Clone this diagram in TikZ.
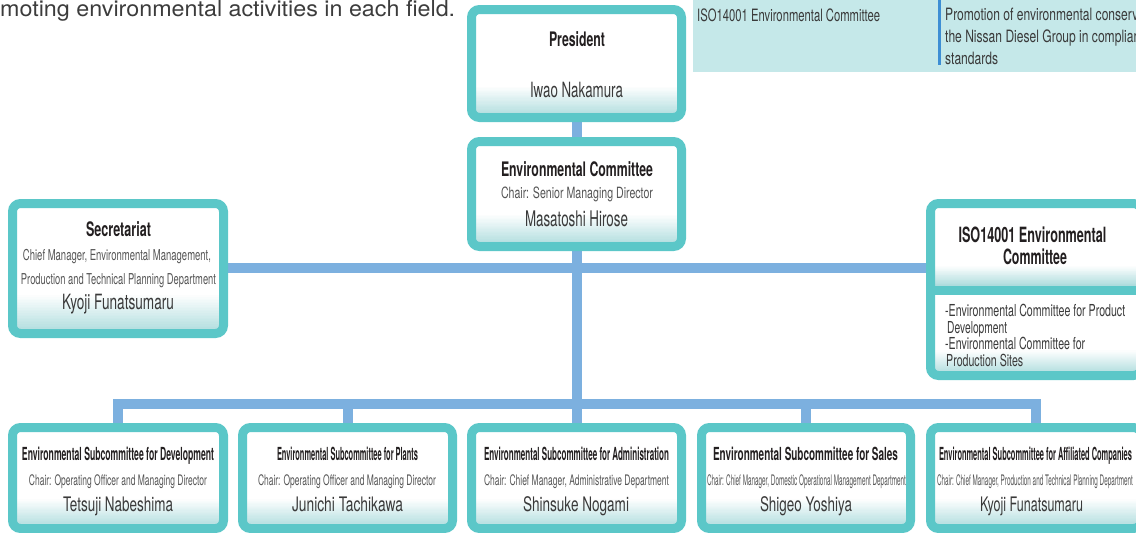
\documentclass[tikz,border=0pt]{standalone}
\usepackage{fontspec}
\setmainfont{TeX Gyre Heros}
\usepackage{graphicx}
\usetikzlibrary{backgrounds}
\definecolor{bordc}{HTML}{5BC7C8}
\definecolor{connc}{HTML}{7CB0DF}
\definecolor{gradc}{HTML}{ADDCDD}
\definecolor{tblc}{HTML}{C5E8E9}
\definecolor{sepc}{HTML}{3D8ED4}
\definecolor{ttlc}{HTML}{231F20}
\definecolor{subc}{HTML}{555555}
\definecolor{nmc}{HTML}{3A3A3A}
\definecolor{txtc}{HTML}{3C3C3C}
\newcommand\fw[2]{\resizebox{#1pt}{\height}{#2}}
% gradient band inside a path picture: start (above south), height
\newcommand\gband[2]{%
  \foreach \k in {0,...,23}{%
    \pgfmathsetmacro\pc{100-100*\k/24}%
    \fill[sharp corners, gradc!\pc!white]
      ([yshift={#1+\k*#2/24}]path picture bounding box.south west) rectangle
      ([yshift={#1+(\k+1)*#2/24+0.4}]path picture bounding box.south east);}}
\tikzset{
  band/.store in=\bandh, band=31,
  obox/.style={draw=bordc, line width=9pt, rounded corners=8pt, fill=white, inner sep=0pt,
    path picture={\gband{0}{\bandh}}},
  isobox/.style={obox,
    path picture={
      \gband{0}{25}
      \gband{89.5}{19.5}
      \fill[sharp corners, bordc]
        ([yshift=80.5pt]path picture bounding box.south west) rectangle ([yshift=89.5pt]path picture bounding box.south east);}},
  conn/.style={draw=connc, line width=10pt},
  lbl/.style={inner sep=0pt, anchor=base},
  ttl/.style={lbl, text=ttlc, font=\fontsize{20}{20}\selectfont\bfseries},
  sttl/.style={lbl, text=ttlc, font=\fontsize{18}{18}\selectfont\bfseries},
  chr/.style={lbl, text=subc, font=\fontsize{14.5}{14.5}\selectfont},
  nm/.style={lbl, text=nmc, font=\fontsize{20}{20}\selectfont},
  lst/.style={inner sep=0pt, anchor=base west, text=nmc, font=\fontsize{16.5}{16.5}\selectfont},
  tbt/.style={inner sep=0pt, anchor=base west, text=nmc, font=\fontsize{17}{17}\selectfont},
}
\begin{document}
\begin{tikzpicture}[x=1pt, y=-1pt]
\useasboundingbox (0,0) rectangle (1136,533);
\clip (0,0) rectangle (1136,533);

% intro text and top-right table
\node[inner sep=0pt, anchor=base west, text=txtc, font=\fontsize{22}{22}\selectfont] (intro) at (0,16.5)
  {\fw{455}{moting environmental activities in each field.}};
\node[fill=tblc, inner sep=0pt, minimum width=460pt, minimum height=72pt, anchor=north west] (tab) at (693,0) {};
\fill[sepc] (938,0) rectangle (941,65);
\node[tbt] (tabL) at (697,21) {\fw{183}{ISO14001 Environmental Committee}};
\node[tbt] (tabR1) at (945,20.5) {\scalebox{0.71}[1]{Promotion of environmental conservation activities by}};
\node[tbt] (tabR2) at (945,42.5) {\scalebox{0.71}[1]{the Nissan Diesel Group in compliance with the}};
\node[tbt] (tabR3) at (945,64.5) {\scalebox{0.71}[1]{standards}};

% boxes
\node[obox, band=30.5, minimum width=210pt, minimum height=108pt] (pres) at (576.5,63.5) {};
\node[obox, band=31.5, minimum width=210pt, minimum height=105pt] (envc) at (576.5,194) {};
\node[obox, band=38, minimum width=211pt, minimum height=130pt] (sec) at (118,268.5) {};
\node[isobox, minimum width=211pt, minimum height=172pt] (iso) at (1036,289.5) {};
\node[obox, band=29, minimum width=211pt, minimum height=101pt] (s1) at (118,478) {};
\node[obox, band=29, minimum width=210pt, minimum height=101pt] (s2) at (347.5,478) {};
\node[obox, band=29, minimum width=210pt, minimum height=101pt] (s3) at (576.5,478) {};
\node[obox, band=29, minimum width=209pt, minimum height=101pt] (s4) at (806,478) {};
\node[obox, band=29, minimum width=211pt, minimum height=101pt] (s5) at (1036,478) {};

% connectors
\coordinate (mj) at (576.5,268);
\coordinate (jn) at (576.5,404);
\begin{scope}[on background layer]
\draw[conn] (pres.south) -- (envc.north);
\draw[conn] (envc.south) -- (s3.north);
\draw[conn] (sec.east |- mj) -- (iso.west |- mj);
\draw[conn] (s1.north) |- (jn) -| (s5.north);
\draw[conn] (s2.north) -- (s2.north |- jn);
\draw[conn] (s4.north) -- (s4.north |- jn);
\end{scope}

% President
\node[ttl] (presT) at (577,46) {\fw{56}{President}};
\node[nm, font=\fontsize{21}{21}\selectfont] (presN) at (576.5,97.5) {\fw{93}{Iwao Nakamura}};
% Environmental Committee
\node[ttl] (envcT) at (577,176) {\fw{152}{Environmental Committee}};
\node[chr, font=\fontsize{15.5}{15.5}\selectfont] (envcC) at (577,198.5) {\fw{152}{Chair: Senior Managing Director}};
\node[nm, font=\fontsize{21.5}{21.5}\selectfont] (envcN) at (576.5,226) {\fw{103}{Masatoshi Hirose}};
% Secretariat
\node[ttl] (secT) at (118.5,236.5) {\fw{65}{Secretariat}};
\node[chr, font=\fontsize{15}{15}\selectfont] (secC1) at (117,260.5) {\fw{188}{Chief Manager, Environmental Management,}};
\node[chr, font=\fontsize{15}{15}\selectfont] (secC2) at (118.5,284.5) {\fw{195}{Production and Technical Planning Department}};
\node[nm, font=\fontsize{21}{21}\selectfont] (secN) at (118,309) {\fw{112}{Kyoji Funatsumaru}};
% ISO14001
\node[ttl, font=\fontsize{21}{21}\selectfont\bfseries] (isoT1) at (1032.5,242.5) {\fw{148}{ISO14001 Environmental}};
\node[ttl, font=\fontsize{21}{21}\selectfont\bfseries] (isoT2) at (1035,264.5) {\fw{64}{Committee}};
\node[lst] (isoL1) at (945,316.5) {\fw{180}{-Environmental Committee for Product}};
\node[lst] (isoL2) at (947,333) {\fw{60}{Development}};
\node[lst] (isoL3) at (945,349.5) {\fw{140}{-Environmental Committee for}};
\node[lst] (isoL4) at (946,366) {\fw{77}{Production Sites}};
% Subcommittees
\node[sttl] (s1T) at (118,460) {\fw{192}{Environmental Subcommittee for Development}};
\node[chr] (s1C) at (118,485) {\fw{178}{Chair: Operating Officer and Managing Director}};
\node[nm] (s1N) at (118,511.5) {\fw{110}{Tetsuji Nabeshima}};
\node[sttl] (s2T) at (347.5,460) {\fw{141}{Environmental Subcommittee for Plants}};
\node[chr] (s2C) at (347,485) {\fw{178}{Chair: Operating Officer and Managing Director}};
\node[nm] (s2N) at (347.5,511.5) {\fw{111}{Junichi Tachikawa}};
\node[sttl] (s3T) at (576.5,460) {\fw{185}{Environmental Subcommittee for Administration}};
\node[chr] (s3C) at (576.5,485) {\fw{185}{Chair: Chief Manager, Administrative Department}};
\node[nm] (s3N) at (576,511.5) {\fw{106}{Shinsuke Nogami}};
\node[sttl] (s4T) at (805.5,460) {\fw{185}{Environmental Subcommittee for Sales}};
\node[chr] (s4C) at (806.5,485) {\fw{199}{Chair: Chief Manager, Domestic Operational Management Department}};
\node[nm] (s4N) at (806,511.5) {\fw{92}{Shigeo Yoshiya}};
\node[sttl] (s5T) at (1035.5,460) {\fw{193}{Environmental Subcommittee for Affiliated Companies}};
\node[chr] (s5C) at (1035,485) {\fw{196}{Chair: Chief Manager, Production and Technical Planning Department}};
\node[nm] (s5N) at (1031.5,511.5) {\fw{103}{Kyoji Funatsumaru}};
\end{tikzpicture}
\end{document}
